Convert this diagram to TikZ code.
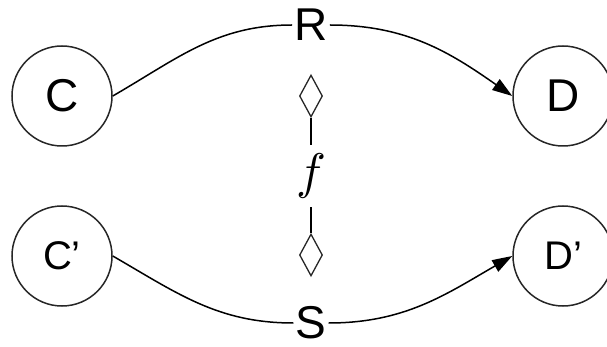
\documentclass[tikz,border=0pt]{standalone}
\usepackage{unicode-math}
\setmainfont{Liberation Sans}
\setmathfont{Latin Modern Math}
\usetikzlibrary{arrows.meta,shapes.geometric}
\tikzset{
  obj/.style ={circle, draw=black!85, line width=1.5pt, minimum size=100pt, inner sep=0pt, font=\fontsize{46}{50}\selectfont},
  objp/.style={obj, font=\fontsize{40}{44}\selectfont},
  lab/.style ={inner sep=2pt, font=\fontsize{46}{50}\selectfont},
  rel/.style ={diamond, draw=black!85, line width=1.3pt, minimum width=23pt, minimum height=42pt, inner sep=0pt},
  map/.style ={inner sep=0pt, minimum height=62pt, font=\fontsize{50}{54}\selectfont},
  edge/.style={-{Triangle[length=20pt,width=13pt]}, line width=1.5pt},
  link/.style={line width=1.5pt},
}
\begin{document}
\begin{tikzpicture}[x=1pt,y=-1pt]
        \useasboundingbox (0,0) rectangle (607,347);
        \node[obj]  (C)  at (62,96)   {C};
        \node[obj]  (D)  at (563,96)  {D};
        \node[objp] (Cp) at (62,256)  {C'};
        \node[objp] (Dp) at (563,256) {D'};
        \node[lab]  (R)  at (311,25)  {R};
        \node[lab]  (S)  at (311,323) {S};
        \node[rel]  (ru) at (311,96)  {};
        \node[rel]  (rl) at (311,255) {};
        \node[map]  (f)  at (311,176) {$f$};
        \draw[link] (C.east) to[out=30,in=180] (R);
        \draw[edge] (R) to[out=0,in=145] (D.west);
        \draw[link] (Cp.east) to[out=-30,in=180] (S);
        \draw[edge] (S) to[out=0,in=-150] (Dp.west);
        \draw[link] (ru) -- (f);
        \draw[link] (f) -- (rl);
      \end{tikzpicture}
\end{document}
